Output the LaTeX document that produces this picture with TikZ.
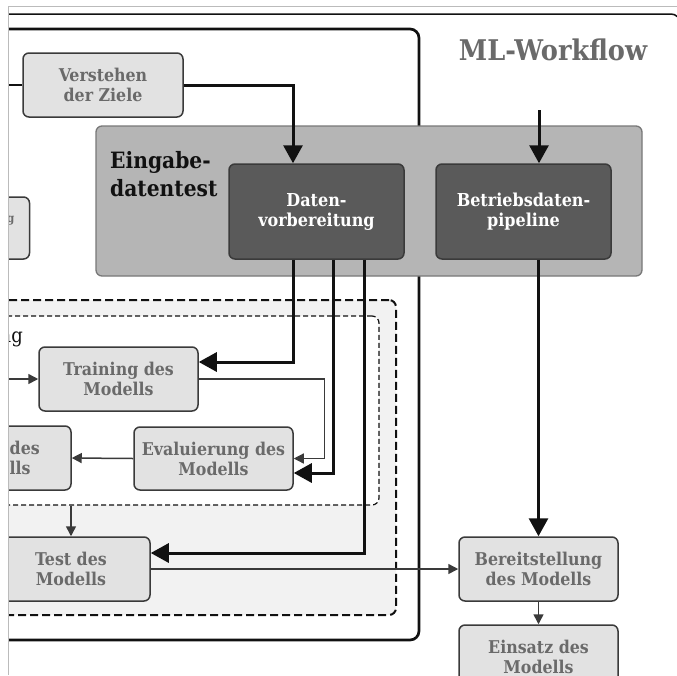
\documentclass[tikz,border=0pt]{standalone}
\usepackage{fontspec}
\IfFontExistsTF{DejaVu Serif Condensed}
  {\setmainfont{DejaVu Serif Condensed}}
  {\setmainfont{DejaVu Serif}[FakeStretch=0.9]}
\usetikzlibrary{arrows.meta,calc}

\definecolor{boxfill}{HTML}{E2E2E2}
\definecolor{boxline}{HTML}{3A3A3A}
\definecolor{boxtext}{HTML}{6A6A6A}
\definecolor{darkfill}{HTML}{5A5A5A}
\definecolor{groupfill}{HTML}{B5B5B5}
\definecolor{groupline}{HTML}{787878}
\definecolor{phasefill}{HTML}{F2F2F2}
\definecolor{framegrey}{HTML}{BBBBBB}
\definecolor{inkblack}{HTML}{111111}

\tikzset{
  lightbox/.style={draw=boxline, fill=boxfill, line width=1.5pt,
    rounded corners=6pt, text=boxtext, align=center, inner sep=0pt,
    font=\bfseries\fontsize{17.6}{20}\selectfont,
    minimum width=159pt, minimum height=64pt},
  darkbox/.style={lightbox, fill=darkfill, draw=boxline, text=white,
    font=\bfseries\fontsize{17.8}{20}\selectfont,
    minimum width=175pt, minimum height=95pt},
  groupbox/.style={draw=groupline, fill=groupfill, line width=1.3pt,
    rounded corners=6pt, inner sep=0pt},
  phasebox/.style={draw=inkblack, fill=phasefill, line width=2pt,
    dash pattern=on 8pt off 4pt, rounded corners=7pt, inner sep=0pt},
  loopbox/.style={draw=inkblack, fill=white, line width=1.2pt,
    dash pattern=on 5pt off 3pt, rounded corners=7pt, inner sep=0pt},
  frame/.style={draw=inkblack, rounded corners=9pt, inner sep=0pt},
  fragment/.style={inner sep=0pt, text=boxtext, align=left,
    font=\bfseries\fontsize{17.6}{20}\selectfont},
  mainflow/.style={draw=inkblack, line width=3pt,
    -{Triangle[length=18pt,width=19pt]}},
  subflow/.style={draw=boxline, line width=1.5pt,
    -{Triangle[length=10pt,width=10pt]}},
  feedback/.style={draw=boxline, line width=1.2pt,
    -{Triangle[length=10pt,width=10pt]}},
  plainlink/.style={draw=inkblack, line width=1.5pt},
}

\begin{document}
\begin{tikzpicture}[x=1pt,y=-1pt]
\useasboundingbox (0,0) rectangle (677,675);

\begin{scope}
\clip (8.5,6.5) rectangle (677,675);

% frames of the whole workflow and of the development part
\node[frame, line width=1.5pt, minimum width=720pt, minimum height=706pt]
  (workflow) at (320,367) {};
\node[frame, line width=2.7pt, minimum width=449pt, minimum height=611pt]
  (devframe) at (194.5,334.5) {};

\node[text=boxtext, font=\bfseries\fontsize{28.5}{32}\selectfont]
  (title) at (553,50) {ML-Workflow};

% input data test group
\node[groupbox, minimum width=546pt, minimum height=150pt]
  (inputtest) at (369,201) {};
\node[anchor=west, inner sep=0pt, align=left, text=inkblack,
  font=\bfseries\fontsize{22.5}{28}\selectfont]
  (inputlabel) at (110,174) {Eingabe-\\datentest};

% training phase containers
\node[phasebox, minimum width=416pt, minimum height=315pt]
  (phase) at (188,457.5) {};
\node[loopbox, minimum width=399pt, minimum height=189pt]
  (loop) at (179.5,410.5) {};
\node[anchor=base east, inner sep=0pt, text=inkblack,
  font=\fontsize{20}{24}\selectfont]
  (looplabel) at (23,342) {ng};

% process steps
\node[lightbox, minimum width=160pt] (goals) at (103,85) {Verstehen\\der Ziele};
\node[lightbox, minimum height=62pt] (collect) at (-50,228) {};
\node[fragment, anchor=base east, font=\bfseries\fontsize{12}{14}\selectfont]
  (collectlabel) at (14.5,222) {g};
\node[darkbox] (prep) at (316.5,211.5) {Daten-\\vorbereitung};
\node[darkbox] (pipe) at (523.5,211.5) {Betriebsdaten-\\pipeline};
\node[lightbox] (train) at (118.5,379) {Training des\\Modells};
\node[lightbox, minimum height=63pt] (eval) at (213.5,458.5) {Evaluierung des\\Modells};
\node[lightbox, minimum height=64pt] (tune) at (-8.5,458) {};
\node[fragment, anchor=west] (tunelabel) at (9.5,458) {des\\lls};
\node[lightbox, minimum width=158pt] (test) at (71,569) {Test des\\Modells};
\node[lightbox] (deploy) at (538.5,569) {Bereitstellung\\des Modells};
\node[lightbox] (use) at (538.5,657) {Einsatz des\\Modells};

% free ends of connectors leaving the visible area
\coordinate (goalsin) at (-10,85);
\coordinate (trainin) at (-10,379);
\coordinate (pipein) at (539,110);

% connectors
\draw[plainlink] (goals.west) -- (goalsin);
\draw[mainflow] (goals.east) -| ([xshift=-23.5pt]prep.north);
\draw[mainflow] (pipein) -- (pipein |- pipe.north);
\draw[mainflow] (pipe.south -| deploy.north) -- (deploy.north);

\draw[mainflow] ([xshift=-23.5pt]prep.south) |- ([yshift=17pt]train.east);
\draw[mainflow] ([xshift=16.5pt]prep.south) |- ([yshift=-14.5pt]eval.east);
\draw[mainflow] ([xshift=47.5pt]prep.south) |- ([yshift=16pt]test.east);

\draw[subflow] (trainin) -- (train.west);
\draw[feedback] (train.east) -- ++(126,0) |- (eval.east);
\draw[subflow] (eval.west) -- (tune.east);
\draw[subflow] (test.north |- loop.south) -- (test.north);
\draw[subflow] (test.east) -- (deploy.west);
\draw[subflow] (deploy.south) -- (use.north);
\end{scope}

% border of the visible area
\draw[framegrey, line width=1pt] (8,675) -- (8,6) -- (677,6);
\end{tikzpicture}
\end{document}
